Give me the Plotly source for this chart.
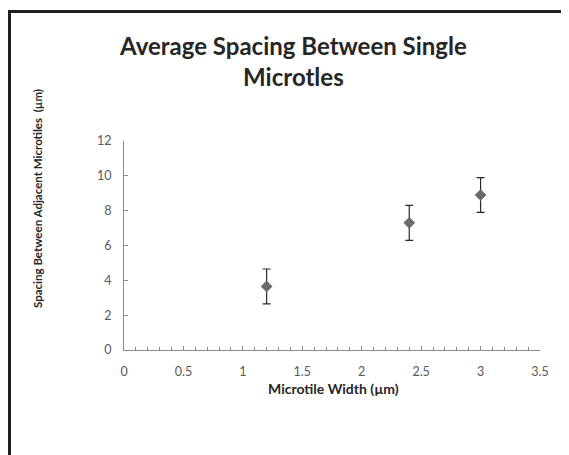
import plotly.graph_objects as go

# ---- data ----
widths = [1.2, 2.4, 3.0]                 # Microtile Width (µm)
spacing = [3.65, 7.3, 8.9]               # Average spacing (µm)
spacing_err = [1.0, 1.0, 1.0]            # error bar half-length
x_ticks = [0, 0.5, 1, 1.5, 2, 2.5, 3, 3.5]
x_tick_labels = ["0", "0.5", "1", "1.5", "2", "2.5", "3", "3.5"]
y_ticks = [0, 2, 4, 6, 8, 10, 12]
y_tick_labels = ["0", "2", "4", "6", "8", "10", "12"]
title_text = "Average Spacing Between Single<br>Microtles"
x_title = "Microtile Width (µm)"
y_title = "Spacing Between Adjacent Microtiles  (µm)"

# page body has an 8px default margin; size the figure to fit the window
OFF = 8
W, H = 569 - OFF, 455 - OFF
L, R, T, B = 116, 29, 133, 105
PW, PH = W - L - R, H - T - B


def px(xw):
    """window pixel x -> paper x"""
    return (xw - OFF - L) / PW


def py(yw):
    """window pixel y -> paper y"""
    return (H - B - (yw - OFF)) / PH


FONT = "Lato"

fig = go.Figure()
fig.add_trace(go.Scatter(
    x=widths, y=spacing, mode="markers",
    marker=dict(symbol="diamond", size=9, color="#6a6a6a"),
    error_y=dict(type="data", array=spacing_err, visible=True,
                 color="#2a2a2a", thickness=1.2, width=4),
    showlegend=False, hoverinfo="x+y",
))

axis_common = dict(showgrid=False, zeroline=False, showline=True,
                   linecolor="#8c8c8c", linewidth=1, ticks="inside",
                   tickcolor="#8c8c8c", ticklen=4,
                   tickfont=dict(family=FONT, size=12.5, color="#595959"))

fig.update_xaxes(range=[0, 3.5], tickvals=x_ticks, ticktext=x_tick_labels,
                 minor=dict(ticks="inside", dtick=0.1, tick0=0, ticklen=3,
                            tickcolor="#8c8c8c"),
                 ticklabelstandoff=10, **axis_common)
fig.update_yaxes(range=[0, 12], tickvals=y_ticks, ticktext=y_tick_labels,
                 ticklabelstandoff=9, **axis_common)

annotations = [
    dict(text="<b>" + title_text + "</b>", x=px(293), y=py(61),
         xref="paper", yref="paper", xanchor="center", yanchor="middle",
         showarrow=False, font=dict(family=FONT, size=24, color="#262626")),
    dict(text="<b>" + x_title + "</b>", x=px(333), y=py(388),
         xref="paper", yref="paper", xanchor="center", yanchor="middle",
         showarrow=False, font=dict(family=FONT, size=14, color="#262626")),
    dict(text="<b>" + y_title + "</b>", x=px(37.5), y=py(198.5),
         xref="paper", yref="paper", xanchor="center", yanchor="middle",
         textangle=-90, showarrow=False,
         font=dict(family=FONT, size=11.5, color="#262626")),
]

shapes = [
    dict(type="line", xref="paper", yref="paper",
         x0=px(8), x1=px(575), y0=py(11.5), y1=py(11.5),
         line=dict(color="#1e1e1e", width=3)),
    dict(type="line", xref="paper", yref="paper",
         x0=px(9.5), x1=px(9.5), y0=py(10), y1=py(460),
         line=dict(color="#1e1e1e", width=3)),
]

fig.update_layout(
    width=W, height=H,
    margin=dict(l=L, r=R, t=T, b=B, pad=0),
    paper_bgcolor="white", plot_bgcolor="white",
    annotations=annotations, shapes=shapes,
    font=dict(family=FONT),
)

fig.write_html("out.html")
